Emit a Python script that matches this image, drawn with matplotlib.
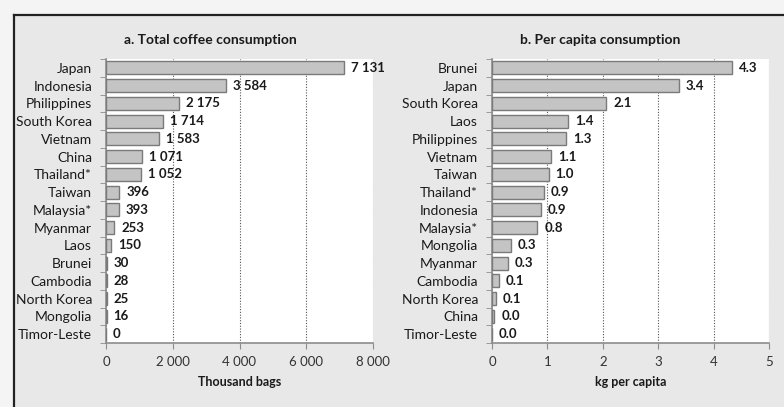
import numpy as np
import matplotlib.pyplot as plt
from matplotlib.ticker import FuncFormatter

# panel a: total consumption (thousand bags)
total_countries = ['Japan', 'Indonesia', 'Philippines', 'South Korea', 'Vietnam', 'China',
                   'Thailand*', 'Taiwan', 'Malaysia*', 'Myanmar', 'Laos', 'Brunei',
                   'Cambodia', 'North Korea', 'Mongolia', 'Timor-Leste']
total_values = [7131, 3584, 2175, 1714, 1583, 1071, 1052, 396, 393, 253, 150, 30, 28, 25, 16, 0]

# panel b: per capita consumption (kg)
capita_countries = ['Brunei', 'Japan', 'South Korea', 'Laos', 'Philippines', 'Vietnam',
                    'Taiwan', 'Thailand*', 'Indonesia', 'Malaysia*', 'Mongolia', 'Myanmar',
                    'Cambodia', 'North Korea', 'China', 'Timor-Leste']
capita_values = [4.33, 3.37, 2.06, 1.37, 1.34, 1.07, 1.02, 0.94, 0.88, 0.82, 0.34, 0.28,
                 0.12, 0.07, 0.04, 0.0]

plt.rcParams['font.family'] = ['Lato', 'DejaVu Sans']

BG = '#e8e8e8'
BAR = '#c4c4c4'
EDGE = '#7a7a7a'
AXC = '#8c8c8c'
TXT = '#1a1a1a'

fig = plt.figure(figsize=(7.84, 4.07), dpi=100)
fig.patch.set_facecolor('#f4f4f4')

W, H = 784, 407
# framed background behind both panels
bg = fig.add_axes([14 / W, 0, 1 - 14 / W, 1 - 15 / H], zorder=-10)
bg.set_facecolor(BG)
bg.set_xticks([])
bg.set_yticks([])
for side in ['right', 'bottom']:
    bg.spines[side].set_visible(False)
for side in ['top', 'left']:
    bg.spines[side].set_color('#222222')
    bg.spines[side].set_linewidth(1.6)


def space_thousands(v, _pos=None):
    return f'{int(round(v)):,}'.replace(',', ' ')


def draw_panel(rect, names, values, xmax, step, title, title_x, xlabel, fmt_tick, fmt_label):
    ax = fig.add_axes(rect)
    ax.set_facecolor('white')
    y = np.arange(len(names))
    ax.barh(y, values, height=0.72, color=BAR, edgecolor=EDGE, linewidth=1.0, zorder=3)
    ax.set_ylim(len(names) - 0.5, -0.5)
    ax.set_xlim(0, xmax)
    ax.set_xticks(np.arange(0, xmax + step / 2, step))
    ax.xaxis.set_major_formatter(FuncFormatter(fmt_tick))
    ax.set_yticks(y)
    ax.set_yticklabels(names)
    ax.set_yticks(np.arange(-0.5, len(names), 1.0), minor=True)
    ax.tick_params(axis='y', which='major', length=0, pad=10, labelsize=10, labelcolor=TXT)
    ax.tick_params(axis='y', which='minor', length=4, color=AXC)
    ax.tick_params(axis='x', length=4, color=AXC, pad=5, labelsize=9.5, labelcolor='#333333')
    ax.grid(axis='x', linestyle=(0, (1, 1.5)), color='#555555', linewidth=0.8, zorder=1)
    for side in ['top', 'right']:
        ax.spines[side].set_visible(False)
    for side in ['left', 'bottom']:
        ax.spines[side].set_color(AXC)
        ax.spines[side].set_linewidth(1.2)
    for yi, v in zip(y, values):
        ax.annotate(fmt_label(v), (v, yi), xytext=(5, 0), textcoords='offset points',
                    ha='left', va='center', fontsize=9.5, fontweight='bold', color=TXT, zorder=4)
    fig.text(title_x / W, 1 - 40 / H, title, ha='center', va='center',
             fontsize=10, fontweight='bold', color=TXT)
    ax.set_xlabel(xlabel, fontsize=9, fontweight='bold', color=TXT, labelpad=6)
    return ax


draw_panel([106 / W, 1 - 343 / H, 267 / W, 284 / H], total_countries, total_values,
           8000, 2000, 'a. Total coffee consumption', 210, 'Thousand bags',
           space_thousands, space_thousands)
draw_panel([492 / W, 1 - 343 / H, 277 / W, 284 / H], capita_countries, capita_values,
           5, 1, 'b. Per capita consumption', 600, 'kg per capita',
           lambda v, p=None: f'{v:g}', lambda v: f'{v:.1f}')

fig.savefig('out.png', dpi=100, facecolor=fig.get_facecolor())
